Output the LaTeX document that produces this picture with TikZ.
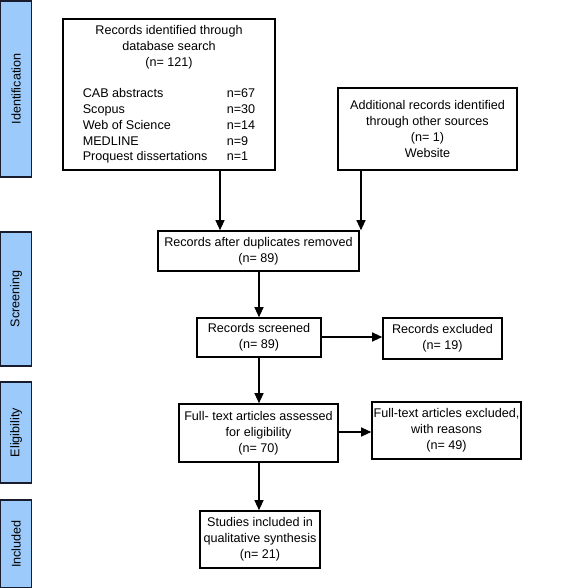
\documentclass[tikz,border=0pt]{standalone}
\usepackage{fontspec}
\setmainfont{Liberation Sans}
\usetikzlibrary{arrows.meta}
\definecolor{phaseblue}{RGB}{156,202,250}
\definecolor{phaseedge}{RGB}{25,28,45}
\begin{document}
\begin{tikzpicture}[x=1pt,y=-1pt,
  box/.style={draw=black,line width=1.6pt,fill=white,inner sep=0pt,align=center,
    font=\fontsize{12.6}{15.8}\selectfont},
  phase/.style={draw=phaseedge,line width=1.8pt,fill=phaseblue,inner sep=0pt,rotate=90,
    minimum height=31pt,font=\fontsize{12.6}{15}\selectfont},
  conn/.style={line width=1.1pt,-{Triangle[length=10pt,width=9pt]}}]
\useasboundingbox (0,0) rectangle (568,588);

% phase bars
\node[phase,minimum width=176pt] (pid) at (16,89) {Identification};
\node[phase,minimum width=134pt] (psc) at (16,299) {Screening};
\node[phase,minimum width=101pt] (pel) at (16,432.5) {Eligibility};
\node[phase,minimum width=88pt] (pin) at (16,544) {Included};

% boxes
\node[box,minimum width=212pt,minimum height=151pt] (b1) at (169,94.5) {%
  \begin{tabular}{@{}p{144pt}@{}l@{}}
  \multicolumn{2}{c}{Records identified through}\\
  \multicolumn{2}{c}{database search}\\
  \multicolumn{2}{c}{(n= 121)}\\[15.8pt]
  CAB abstracts & n=67\\
  Scopus & n=30\\
  Web of Science & n=14\\
  MEDLINE & n=9\\
  Proquest dissertations & n=1
  \end{tabular}};
\node[box,minimum width=179pt,minimum height=82pt] (b2) at (427.5,129)
  {Additional records identified\\through other sources\\(n= 1)\\Website};
\node[box,minimum width=201pt,minimum height=40pt] (b3) at (258.5,251)
  {Records after duplicates removed\\(n= 89)};
\node[box,minimum width=124pt,minimum height=39pt] (b4) at (259,337.5)
  {Records screened\\(n= 89)};
\node[box,minimum width=119pt,minimum height=41pt] (b5) at (442.5,338.5)
  {Records excluded\\(n= 19)};
\node[box,minimum width=159pt,minimum height=58pt] (b6) at (258.5,433)
  {Full- text articles assessed\\for eligibility\\(n= 70)};
\node[box,minimum width=149pt,minimum height=57pt] (b7) at (446.5,430.5)
  {Full-text articles excluded,\\with reasons\\(n= 49)};
\node[box,minimum width=120pt,minimum height=57pt] (b8) at (260,539.5)
  {Studies included in\\qualitative synthesis\\(n= 21)};

% connectors
\coordinate (x1) at (220,0);
\coordinate (x2) at (361,0);
\coordinate (x3) at (259,0);
\coordinate (y1) at (0,337);
\coordinate (y2) at (0,432);
\draw[conn] (b1.south -| x1) -- (b3.north -| x1);
\draw[conn] (b2.south -| x2) -- (b3.north -| x2);
\draw[conn] (b3.south -| x3) -- (b4.north -| x3);
\draw[conn] (b4.south -| x3) -- (b6.north -| x3);
\draw[conn] (b6.south -| x3) -- (b8.north -| x3);
\draw[conn] (b4.east |- y1) -- (b5.west |- y1);
\draw[conn] (b6.east |- y2) -- (b7.west |- y2);
\end{tikzpicture}
\end{document}
